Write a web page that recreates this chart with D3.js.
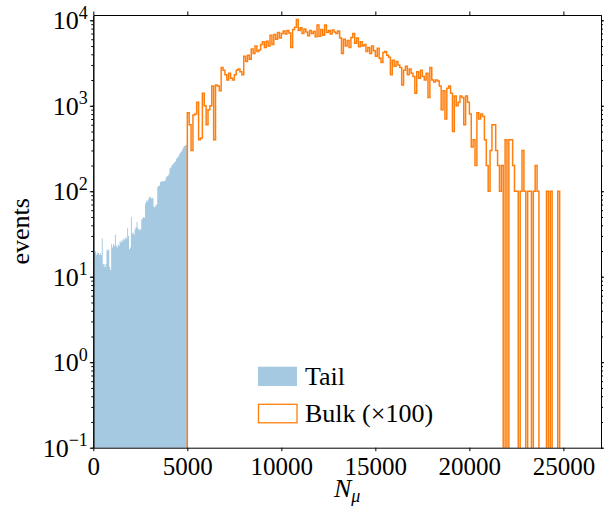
<!DOCTYPE html>
<html><head><meta charset="utf-8">
<script src="https://cdn.jsdelivr.net/npm/d3@7"></script>
<style>html,body{margin:0;padding:0;background:#fff;}svg{display:block;}</style>
</head><body>
<svg id="c" width="604" height="508"></svg>
<script>
// ---- data ----
const tailStart = 0, tailBinWidth = 50;
const tailValues = [100,19,20,18,19,19,18,19,18,28, 14,14,13,14,21,20,21,13,12,24,
  22,24,23,31,23,22,24,23,26,25, 27,26,28,27,29,28,37,30,21,22,
  50,32,33,31,36,38,44,37,36,35, 36,47,48,50,49,72,78,76,80,85,
  86,82,84,83,66,65,68,70,112,115, 117,128,131,130,132,131,134,145,150,152,
  160,185,190,200,205,212,218,225,240,248, 255,270,282,290,300,318,335,340,345,350];
const bulkStart = 5000, bulkBinWidth = 100;
const bulkValues = [
  830,600,300,780,800,1100,400,420,1400,1000,600,900,1000,
  1700,400, 1750,1700,1500, 2800,2600,
  2300,2000,2400,2100,2000,2300,2600, 2700,2500,2300,
  3800,3300,3900,3500, 4600,4100,5000,4300,4500,
  5200,5600,4800,5700,5000, 6700,5200,6800,6000,7200,6200,7000,
  7500,6900,7600,7100,4800, 7800,8300,10200,
  7600,8200,7000,7900, 7300,6600,7600,7000,7400,6400,8800,
  6500,7800,6700,8800, 7200,7600,6900,7700,7300,7000,7500,
  6200,4100,6000,5000, 5800,4800,6300,7000,5400,
  6200,4900,5600,5000, 5200,4300,4800,4100,
  5000,4400,3800,4700,3600, 3200,4200, 4300,3900,3700,2300,
  3400,2900,3300,3000,2800, 1750,2600, 2900,2300,2700,2400,2200, 1400,
  2500,2100,2600,2200,2000,2400, 1250,2800, 2000,1900,2000,1950,
  1700,900,1500,700,1600, 1700,1400, 500,1300,1000, 1100,1300,1250,
  600,1300,1100, 800,330, 400,200, 830,700,800,750,
  400,200,100,300, 600,600,300, 200,100,200,
  0,400,0,400,400, 200,100,100, 0,100,300,100, 0,100,100, 0,100,200,100,
  0,0,0,0, 100,0,100,0,0,0,100,0,0];
const xTicks = [0,5000,10000,15000,20000,25000];
const yTickExps = [-1,0,1,2,3,4];
const legendLabels = ["Tail","Bulk (\u00d7100)"];

// ---- chart ----
const svg = d3.select("#c");
const L = 93.3, R = 601, T = 15, B = 447.7;
const x = d3.scaleLinear().domain([0, 27000]).range([L, R]);
const y = d3.scaleLog().domain([0.1, 11530]).range([B, T]);
const font = "'Liberation Serif', 'Times New Roman', serif";
const blue = "#a5c9e1", orange = "#ff7f0e";

svg.append("defs").append("clipPath").attr("id","clip")
  .append("rect").attr("x",L).attr("y",T).attr("width",R-L).attr("height",B-T);
const plot = svg.append("g").attr("clip-path","url(#clip)");

// tail histogram (filled steps)
const tailPts = tailValues.map((v,i)=>({x0:tailStart+i*tailBinWidth, v}));
tailPts.push({x0:tailStart+tailValues.length*tailBinWidth, v:tailValues[tailValues.length-1]});
plot.append("path")
  .attr("d", d3.area().curve(d3.curveStepAfter).x(d=>x(d.x0)).y0(B+5).y1(d=>y(d.v))(tailPts))
  .attr("fill",blue);

// bulk step outline
const yc = v => v > 0 ? y(v) : B + 10;
const pts = [[x(bulkStart), B + 10]];
bulkValues.forEach((v,i)=>{
  pts.push([x(bulkStart+i*bulkBinWidth), yc(v)]);
  pts.push([x(bulkStart+(i+1)*bulkBinWidth), yc(v)]);
});
pts.push([x(bulkStart+bulkValues.length*bulkBinWidth), B + 10]);
plot.append("path").attr("d", d3.line()(pts))
  .attr("fill","none").attr("stroke",orange).attr("stroke-width",1.5)
  .attr("stroke-linejoin","miter");

// axes
const minorTicks = [];
for (let e=-1;e<=4;e++) for (let m=1;m<=9;m++){ const v=m*Math.pow(10,e); if(v>=0.1 && v<=11530) minorTicks.push(v); }
const majors = yTickExps.map(e=>Math.pow(10,e));
const style = g => { g.select(".domain").attr("stroke","#000").attr("stroke-width",1);
  g.selectAll(".tick line").attr("stroke","#000").attr("stroke-width",1); };

svg.append("g").attr("transform",`translate(0,${B})`)
  .call(d3.axisBottom(x).tickValues(xTicks).tickSize(3.5).tickPadding(6).tickFormat(d3.format("d")).tickSizeOuter(0))
  .call(style)
  .call(g=>g.selectAll(".tick text").attr("font-family",font).attr("font-size",25).attr("fill","#000"));
svg.append("g").attr("transform",`translate(0,${T})`)
  .call(d3.axisTop(x).tickValues(xTicks).tickSize(3.5).tickFormat("").tickSizeOuter(0)).call(style);
svg.append("g").attr("transform",`translate(${L},0)`)
  .call(d3.axisLeft(y).tickValues(minorTicks).tickSize(2).tickFormat("").tickSizeOuter(0)).call(style);
svg.append("g").attr("transform",`translate(${L},0)`)
  .call(d3.axisLeft(y).tickValues(majors).tickSize(3.5).tickFormat("").tickSizeOuter(0)).call(style);
svg.append("g").attr("transform",`translate(${R},0)`)
  .call(d3.axisRight(y).tickValues(minorTicks).tickSize(2).tickFormat("").tickSizeOuter(0)).call(style);
svg.append("g").attr("transform",`translate(${R},0)`)
  .call(d3.axisRight(y).tickValues(majors).tickSize(3.5).tickFormat("").tickSizeOuter(0)).call(style);

// y tick labels 10^e
yTickExps.forEach(e=>{
  const t = svg.append("text").attr("x", L-5.5).attr("y", y(Math.pow(10,e))+9)
    .attr("text-anchor","end").attr("font-family",font).attr("font-size",26).attr("fill","#000");
  t.append("tspan").text("10");
  t.append("tspan").attr("dy",-10.5).attr("font-size",18).text(e<0 ? "\u2212"+(-e) : String(e));
});

// axis titles
svg.append("text").attr("transform",`translate(29,${(T+B)/2}) rotate(-90)`)
  .attr("text-anchor","middle").attr("font-family",font).attr("font-size",26).text("events");
const xl = svg.append("text").attr("x", (L+R)/2).attr("y", 497)
  .attr("text-anchor","middle").attr("font-family",font).attr("font-size",26).attr("font-style","italic");
xl.append("tspan").text("N");
xl.append("tspan").attr("dy",5).attr("font-size",18).text("\u03bc");

// legend
svg.append("rect").attr("x",258).attr("y",366.7).attr("width",39).attr("height",19.3).attr("fill",blue);
svg.append("rect").attr("x",258.5).attr("y",404.3).attr("width",38.5).attr("height",18.5)
  .attr("fill","#fff").attr("stroke",orange).attr("stroke-width",1.3);
svg.append("text").attr("x",305).attr("y",385).attr("font-family",font).attr("font-size",26).text(legendLabels[0]);
svg.append("text").attr("x",305).attr("y",422).attr("font-family",font).attr("font-size",26).text(legendLabels[1]);
</script>
</body></html>
